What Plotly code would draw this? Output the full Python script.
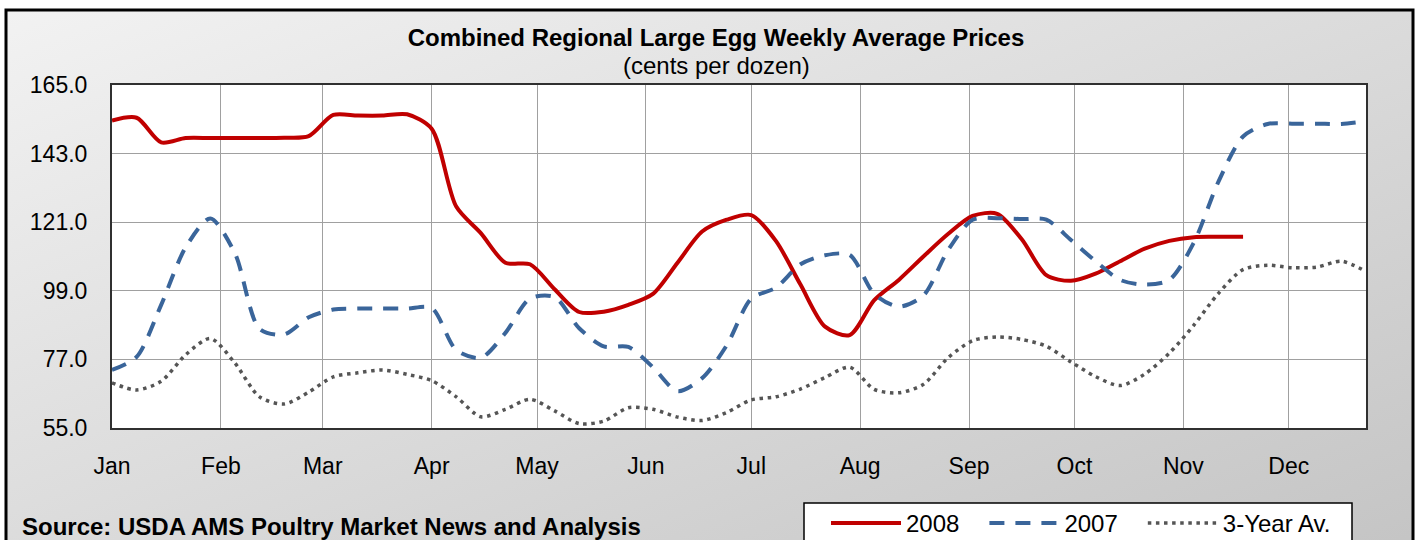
import base64
import pandas as pd
import plotly.graph_objects as go

# ---------------- data ----------------
weeks = pd.date_range("2008-01-01", periods=52, freq="7D")

prices_2008 = [153.6, 154.5, 146.6, 148.0, 148.0, 148.0, 148.0, 148.1, 148.6, 155.4,
               155.2, 155.2, 155.6, 151.0, 126.0, 117.5, 108.0, 107.5, 99.5, 92.2,
               92.3, 94.5, 98.0, 108.0, 118.0, 121.8, 123.3, 115.0, 101.0, 87.5,
               84.8, 96.0, 102.5, 110.0, 117.2, 123.0, 123.7, 115.5, 104.0, 102.2,
               104.5, 108.5, 112.5, 115.0, 116.2, 116.3, 116.3]

prices_2007 = [73.6, 77.8, 94.5, 113.0, 122.2, 111.0, 86.8, 85.0, 90.5, 93.0,
               93.3, 93.3, 93.3, 93.5, 80.0, 77.5, 85.5, 96.5, 97.0, 87.0,
               81.2, 81.0, 74.5, 66.8, 71.0, 81.5, 96.5, 100.0, 107.5, 110.4,
               110.5, 98.0, 93.9, 97.5, 112.0, 121.8, 122.3, 122.0, 121.8, 115.3,
               108.5, 102.5, 101.0, 102.5, 114.5, 134.0, 148.5, 152.5, 152.6, 152.6,
               152.5, 153.4]

prices_3yr = [69.5, 67.2, 70.0, 78.5, 83.7, 75.8, 65.0, 62.7, 66.5, 71.4,
              72.7, 73.6, 72.2, 70.2, 65.0, 58.6, 61.0, 64.2, 60.5, 56.4,
              57.2, 61.5, 61.0, 58.5, 57.4, 60.0, 64.0, 65.0, 67.5, 71.2,
              74.5, 67.4, 66.3, 69.0, 77.5, 83.0, 84.2, 83.4, 81.2, 76.2,
              71.5, 68.6, 72.3, 79.0, 88.0, 98.2, 105.8, 107.2, 106.4, 106.6,
              108.5, 105.2]

series_names = ["2008", "2007", "3-Year Av."]
month_labels = ["Jan", "Feb", "Mar", "Apr", "May", "Jun",
                "Jul", "Aug", "Sep", "Oct", "Nov", "Dec"]
month_starts = pd.date_range("2008-01-01", periods=12, freq="MS")
y_ticks = [55, 77, 99, 121, 143, 165]

# ---------------- layout geometry ----------------
W, H = 1419, 540
L, R, T, B = 112, 53, 85, 112
PW, PH = W - L - R, H - T - B


def px_x(x):
    return (x - L) / PW


def px_y(y):
    return (H - B - y) / PH


FONT = "Liberation Sans, Arial, sans-serif"
PAD = "\u00a0" * 3  # spacing between legend entries

fig = go.Figure()
fig.add_trace(go.Scatter(x=weeks[:len(prices_2008)], y=prices_2008, name=series_names[0] + PAD,
                         mode="lines", line=dict(color="#C00000", width=4, shape="spline", smoothing=0.8)))
fig.add_trace(go.Scatter(x=weeks[:len(prices_2007)], y=prices_2007, name=series_names[1] + PAD,
                         mode="lines", line=dict(color="#3A659A", width=4, dash="15px,11px",
                                                 shape="spline", smoothing=0.8)))
fig.add_trace(go.Scatter(x=weeks[:len(prices_3yr)], y=prices_3yr, name=series_names[2],
                         mode="lines", line=dict(color="#555555", width=3.5, dash="3.5px,4.6px",
                                                 shape="spline", smoothing=0.8)))

fig.update_xaxes(
    range=[weeks[0], weeks[-1]],
    tickmode="array", tickvals=month_starts, ticktext=month_labels,
    showgrid=True, gridcolor="#A0A0A0", gridwidth=1.3,
    showline=True, linecolor="#303030", linewidth=2, mirror=True,
    ticks="", ticklabelstandoff=16,
    tickfont=dict(family=FONT, size=23, color="#000"),
    zeroline=False,
)
fig.update_yaxes(
    range=[55, 165],
    tickmode="array", tickvals=y_ticks, tickformat=".1f",
    showgrid=True, gridcolor="#A0A0A0", gridwidth=1.3,
    showline=True, linecolor="#303030", linewidth=2, mirror=True,
    ticks="", ticklabelstandoff=18,
    tickfont=dict(family=FONT, size=23, color="#000"),
    zeroline=False,
)

svg = ("<svg xmlns='http://www.w3.org/2000/svg' width='100' height='100' viewBox='0 0 100 100' "
       "preserveAspectRatio='none'><defs><linearGradient id='g' x1='0' y1='0' x2='1' y2='1'>"
       "<stop offset='0' stop-color='#F2F2F2'/><stop offset='1' stop-color='#C4C4C4'/>"
       "</linearGradient></defs><rect width='100' height='100' fill='url(#g)'/></svg>")
src = "data:image/svg+xml;base64," + base64.b64encode(svg.encode()).decode()

bx0, by0, bx1, by1 = 6, 10, 1413, 560
fig.add_layout_image(dict(source=src, xref="paper", yref="paper",
                          x=px_x(bx0), y=px_y(by0), sizex=px_x(bx1) - px_x(bx0),
                          sizey=px_y(by0) - px_y(by1), sizing="stretch",
                          xanchor="left", yanchor="top", layer="below"))
fig.add_shape(type="rect", xref="paper", yref="paper", x0=px_x(bx0), x1=px_x(bx1),
              y0=px_y(by1), y1=px_y(by0), line=dict(color="#000", width=3),
              fillcolor="rgba(0,0,0,0)", layer="below")
fig.add_shape(type="rect", xref="paper", yref="paper", x0=0, x1=1, y0=0, y1=1,
              line=dict(width=0), fillcolor="white", layer="below")
# legend box
fig.add_shape(type="rect", xref="paper", yref="paper", x0=px_x(804), x1=px_x(1352),
              y0=px_y(560), y1=px_y(503), line=dict(color="#000", width=1.5),
              fillcolor="white", layer="below")

fig.add_annotation(text="<b>Source: USDA AMS Poultry Market News and Analysis</b>",
                   xref="paper", yref="paper", x=px_x(20), y=px_y(526),
                   xanchor="left", yanchor="middle", showarrow=False,
                   font=dict(family=FONT, size=24, color="#000"))
fig.add_annotation(text="(cents per dozen)",
                   xref="paper", yref="paper", x=px_x(716), y=px_y(66),
                   xanchor="center", yanchor="middle", showarrow=False,
                   font=dict(family=FONT, size=24, color="#000"))

fig.update_layout(
    width=W, height=H,
    margin=dict(l=L, r=R, t=T, b=B, autoexpand=False),
    paper_bgcolor="white", plot_bgcolor="white",
    title=dict(text="<b>Combined Regional Large Egg Weekly Average Prices</b>",
               x=716 / W, xanchor="center", xref="container",
               y=1 - 38 / H, yanchor="middle", yref="container",
               font=dict(family=FONT, size=24, color="#000")),
    showlegend=True,
    legend=dict(orientation="h", x=px_x(826), y=px_y(501), xanchor="left", yanchor="top",
                bgcolor="rgba(0,0,0,0)", borderwidth=0,
                font=dict(family=FONT, size=24, color="#000"),
                itemwidth=70, traceorder="normal"),
    font=dict(family=FONT),
)

fig.write_html("out.html", config={"displayModeBar": False},
               post_script="document.body.style.margin='0px';")
